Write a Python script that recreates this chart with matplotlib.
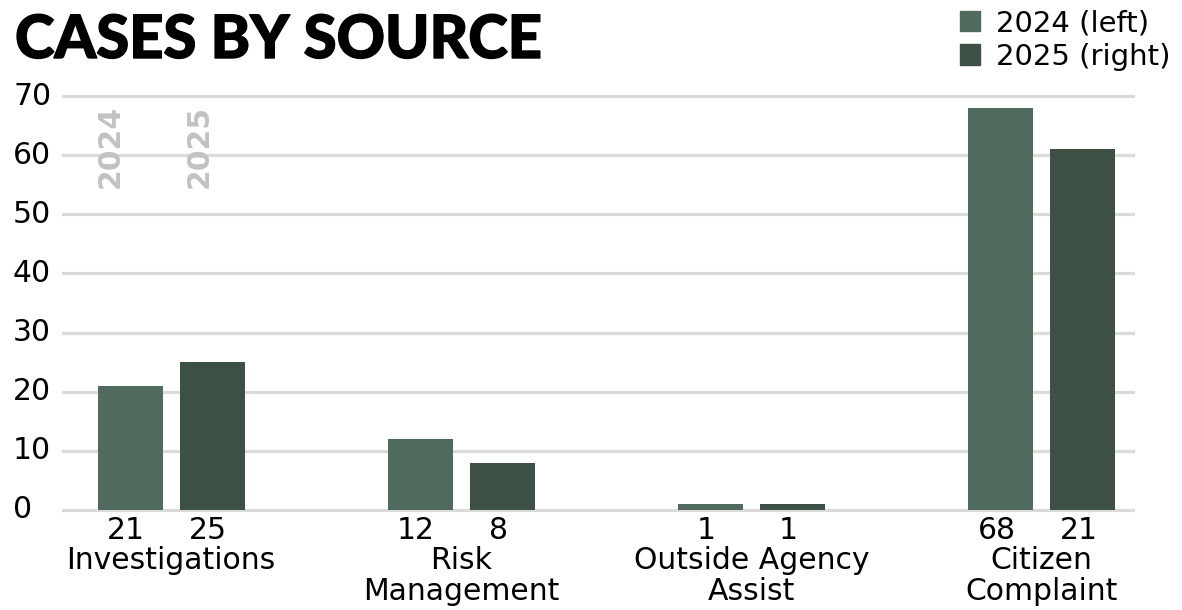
import matplotlib
matplotlib.use("Agg")
import matplotlib.pyplot as plt
import matplotlib.patches as mpatches
import matplotlib.patheffects as pe
import numpy as np

# ---- data ----
categories = ["Investigations", "Risk\nManagement", "Outside Agency\nAssist", "Citizen\nComplaint"]
values_2024 = [21, 12, 1, 68]
values_2025 = [25, 8, 1, 61]
labels_2024 = ["21", "12", "1", "68"]
labels_2025 = ["25", "8", "1", "21"]
series_names = ["2024 (left)", "2025 (right)"]
year_tags = ["2024", "2025"]
yticks = [0, 10, 20, 30, 40, 50, 60, 70]

# ---- style ----
W, H = 1182, 610
DPI = 100
c2024 = "#506b5d"
c2025 = "#3d5044"
grid_c = "#dadada"
FONT = "DejaVu Sans"
TITLE_FONT = "Lato"
FS = 21.5

def fx(px):
    return px / W

def fy(py):
    return 1 - py / H

fig = plt.figure(figsize=(W / DPI, H / DPI), dpi=DPI)
left, right, top, bottom = 63, 1133, 96, 510
ax = fig.add_axes([fx(left), fy(bottom), fx(right - left), fy(top) - fy(bottom)])

x = np.arange(len(categories))
bw = 0.224
off = 0.1413
ax.set_xlim(-0.373, 3.315)
ax.set_ylim(0, 70)

for yv in yticks:
    ax.axhline(yv, color=grid_c, lw=2.3, zorder=1, clip_on=False)

ax.bar(x - off, values_2024, bw, color=c2024, zorder=2, label=series_names[0])
ax.bar(x + off, values_2025, bw, color=c2025, zorder=2, label=series_names[1])

for xi, l1, l2 in zip(x, labels_2024, labels_2025):
    ax.annotate(l1, (xi - off, 0), xytext=(-3, -4), textcoords="offset points",
                ha="center", va="top", fontsize=FS, family=FONT, color="black")
    ax.annotate(l2, (xi + off, 0), xytext=(-3, -4), textcoords="offset points",
                ha="center", va="top", fontsize=FS, family=FONT, color="black")

ax.set_xticks(x)
ax.set_xticklabels(categories, fontsize=FS, family=FONT, linespacing=1.1)
ax.tick_params(axis="x", length=0, pad=26)

ax.set_yticks(yticks)
ax.set_yticklabels([str(v) for v in yticks], fontsize=FS, family=FONT, ha="left")
ax.tick_params(axis="y", length=0, pad=(left - 13) * 72 / DPI)
for lab in ax.get_yticklabels():
    lab.set_verticalalignment("center")

for s in ax.spines.values():
    s.set_visible(False)

# vertical year tags over first group
ax.text(-0.209, 68.5, year_tags[0], rotation=90, ha="center", va="top",
        fontsize=21.5, family=FONT, fontweight="bold", color="#c2c2c2", zorder=3)
ax.text(0.096, 68.5, year_tags[1], rotation=90, ha="center", va="top",
        fontsize=21.5, family=FONT, fontweight="bold", color="#c2c2c2", zorder=3)

# title
fig.text(fx(15), fy(58), "CASES BY SOURCE", ha="left", va="baseline",
         fontsize=43, family=TITLE_FONT, fontweight="black", color="black",
         path_effects=[pe.withStroke(linewidth=1.0, foreground="black")])

# legend
handles = [mpatches.Patch(color=c2024), mpatches.Patch(color=c2025)]
fig.legend(handles, series_names, loc="upper right", bbox_to_anchor=(fx(1180), fy(0)),
           frameon=False, prop={"family": FONT, "size": 21},
           handlelength=0.7, handleheight=0.7, handletextpad=0.55,
           labelspacing=0.18, borderpad=0.12, borderaxespad=0.2)

fig.savefig("out.png", dpi=DPI)
